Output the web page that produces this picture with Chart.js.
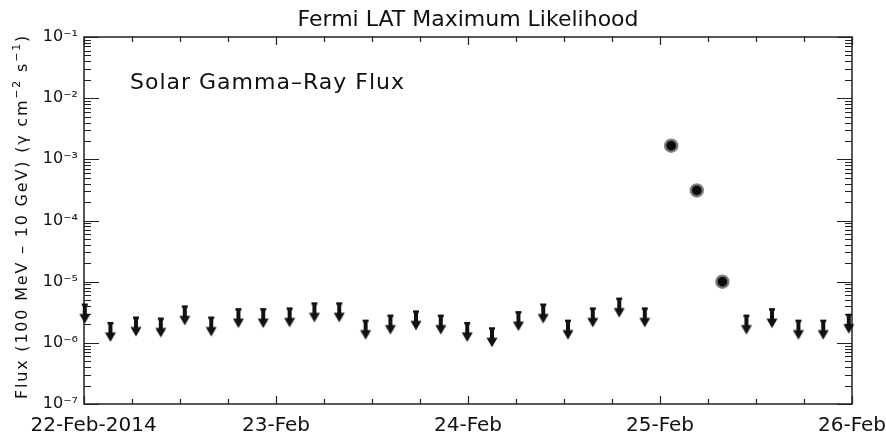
<!DOCTYPE html>
<html>
<head>
<meta charset="utf-8">
<script src="https://cdn.jsdelivr.net/npm/chart.js@4.4.1/dist/chart.umd.min.js"></script>
<style>
  html, body { margin: 0; padding: 0; background: #fff; }
  #wrap { width: 886px; height: 436px; }
</style>
</head>
<body>
<div id="wrap"><canvas id="c" width="886" height="436"></canvas></div>
<script>
// Time bins (hours since 22-Feb-2014 00:00 UT) and fluxes, 100 MeV - 10 GeV
const ulHours = [0.1, 3.3, 6.5, 9.6, 12.6, 15.9, 19.3, 22.4, 25.7, 28.8, 31.9, 35.2,
                 38.3, 41.5, 44.6, 47.9, 51.0, 54.3, 57.4, 60.5, 63.6, 66.9, 70.1,
                 82.8, 86.0, 89.3, 92.4, 95.6];
const ulFlux  = [4.4e-6, 2.2e-6, 2.7e-6, 2.6e-6, 4.1e-6, 2.7e-6, 3.7e-6, 3.7e-6, 3.8e-6,
                 4.6e-6, 4.6e-6, 2.4e-6, 2.9e-6, 3.4e-6, 2.9e-6, 2.2e-6, 1.8e-6, 3.3e-6,
                 4.4e-6, 2.4e-6, 3.8e-6, 5.5e-6, 3.8e-6,
                 2.9e-6, 3.7e-6, 2.4e-6, 2.4e-6, 3.0e-6];
const detHours = [73.4, 76.6, 79.8];
const detFlux  = [1.67e-3, 3.1e-4, 1.0e-5];

// Axis ticks
const dayHours  = [0, 24, 48, 72, 96];
const dayLabels = ['22-Feb-2014', '23-Feb', '24-Feb', '25-Feb', '26-Feb'];
const decadeTicks  = [1e-7, 1e-6, 1e-5, 1e-4, 1e-3, 1e-2, 1e-1];
const decadeLabels = ['10\u207B\u2077', '10\u207B\u2076', '10\u207B\u2075', '10\u207B\u2074',
                      '10\u207B\u00B3', '10\u207B\u00B2', '10\u207B\u00B9'];

const FONT = "'DejaVu Sans', 'Liberation Sans', sans-serif";
const INK = '#111';

// Downward upper-limit arrow; the bar on top sits at the image centre (the limit value)
function makeArrow() {
  const cv = document.createElement('canvas');
  cv.width = 14; cv.height = 42;
  const g = cv.getContext('2d');
  g.fillStyle = INK;
  g.fillRect(4, 21, 6, 2.5);         // cap bar
  g.fillRect(5, 21, 4, 12);          // shaft
  g.beginPath();                      // head
  g.moveTo(1.5, 31.5); g.lineTo(12.5, 31.5); g.lineTo(7, 41); g.closePath();
  g.fill();
  return cv;
}
const arrow = makeArrow();

// Draws text runs with optional superscripts, left to right from (x, y baseline)
function drawRuns(ctx, runs, x, y, size, supSize, rise, spacing, measureOnly) {
  let cx = x;
  ctx.letterSpacing = spacing + 'px';
  for (const [txt, sup] of runs) {
    ctx.font = (sup ? supSize : size) + 'px ' + FONT;
    if (!measureOnly) ctx.fillText(txt, cx, sup ? y - rise : y);
    cx += ctx.measureText(txt).width;
  }
  return cx - x;
}

const frame = {
  id: 'frame',
  beforeDatasetsDraw(chart) {
    const { ctx, chartArea: a, scales: { x, y } } = chart;
    ctx.save();
    ctx.strokeStyle = '#222';
    ctx.lineWidth = 1.5;
    ctx.strokeRect(a.left, a.top, a.right - a.left, a.bottom - a.top);
    ctx.lineWidth = 1.2;
    ctx.beginPath();
    // time axis: 6-hour minor ticks, daily major ticks, on bottom and top
    for (let h = 0; h <= 96; h += 6) {
      const px = Math.round(x.getPixelForValue(h)) + 0.5;
      const len = h % 24 === 0 ? 8 : 5;
      ctx.moveTo(px, a.bottom); ctx.lineTo(px, a.bottom - len);
      ctx.moveTo(px, a.top);    ctx.lineTo(px, a.top + len);
    }
    // flux axis: decades and 2..9 minors, on left and right
    for (let e = -7; e <= -1; e++) {
      for (let m = 1; m <= 9; m++) {
        const v = m * Math.pow(10, e);
        if (v > 1.0001e-1) break;
        const py = Math.round(y.getPixelForValue(v)) + 0.5;
        const len = m === 1 ? 15 : 7;
        ctx.moveTo(a.left, py);  ctx.lineTo(a.left + len, py);
        ctx.moveTo(a.right, py); ctx.lineTo(a.right - len, py);
      }
    }
    ctx.stroke();
    ctx.restore();
  },
  afterDraw(chart) {
    const { ctx, chartArea: a } = chart;
    ctx.save();
    ctx.fillStyle = INK;
    ctx.textBaseline = 'alphabetic';
    // panel label
    drawRuns(ctx, [['Solar Gamma\u2013Ray Flux', false]], a.left + 46, a.top + 52, 22, 14, 0, 1, false);
    // rotated flux-axis title
    const runs = [['Flux (100 MeV \u2013 10 GeV) (\u03B3 cm', false], ['\u22122', true],
                  [' s', false], ['\u22121', true], [')', false]];
    const w = drawRuns(ctx, runs, 0, 0, 16, 11, 7, 1.8, true);
    ctx.translate(27, (a.top + a.bottom) / 2 - 4);
    ctx.rotate(-Math.PI / 2);
    drawRuns(ctx, runs, -w / 2, 0, 16, 11, 7, 1.8, false);
    ctx.restore();
  }
};

Chart.defaults.font.family = FONT;
Chart.defaults.color = INK;

new Chart(document.getElementById('c'), {
  type: 'scatter',
  data: {
    datasets: [
      {
        label: 'Upper limits',
        data: ulHours.map((h, i) => ({ x: h, y: ulFlux[i] })),
        pointStyle: arrow,
        pointRadius: 6,
        clip: false
      },
      {
        label: 'Detections',
        data: detHours.map((h, i) => ({ x: h, y: detFlux[i] })),
        pointStyle: 'circle',
        pointRadius: 6,
        pointBackgroundColor: '#0a0a0a',
        pointBorderColor: 'rgba(120,120,120,0.9)',
        pointBorderWidth: 2.5,
        clip: false
      }
    ]
  },
  options: {
    responsive: false,
    animation: false,
    events: [],
    layout: { padding: { left: 0, right: 34, top: 0, bottom: 0 } },
    plugins: {
      legend: { display: false },
      tooltip: { enabled: false },
      title: {
        display: true,
        text: 'Fermi LAT Maximum Likelihood',
        fullSize: false,
        color: INK,
        font: { size: 22, weight: 'normal' },
        padding: { top: 7, bottom: 3.6 }
      }
    },
    scales: {
      x: {
        type: 'linear',
        min: 0, max: 96,
        grid: { display: false, drawTicks: false },
        border: { display: false },
        afterBuildTicks: s => { s.ticks = dayHours.map(v => ({ value: v })); },
        ticks: {
          autoSkip: false, maxRotation: 0, padding: 10,
          font: { size: 20 },
          callback: v => {
            const i = dayHours.indexOf(v);
            return i === 0 ? '\u00A0\u00A0\u00A0' + dayLabels[0] : dayLabels[i];
          }
        },
        afterFit: s => { s.height = 32; s.paddingLeft = 0; s.paddingRight = 0; }
      },
      y: {
        type: 'logarithmic',
        min: 1e-7, max: 1e-1,
        grid: { display: false, drawTicks: false },
        border: { display: false },
        afterBuildTicks: s => { s.ticks = decadeTicks.map(v => ({ value: v })); },
        ticks: {
          autoSkip: false, padding: 6,
          font: { size: 16 },
          callback: v => {
            const i = decadeTicks.findIndex(d => Math.abs(Math.log10(d) - Math.log10(v)) < 1e-6);
            return i >= 0 ? decadeLabels[i] : '';
          }
        },
        afterFit: s => { s.width = 84; s.paddingTop = 0; s.paddingBottom = 0; }
      }
    }
  },
  plugins: [frame]
});
</script>
</body>
</html>
